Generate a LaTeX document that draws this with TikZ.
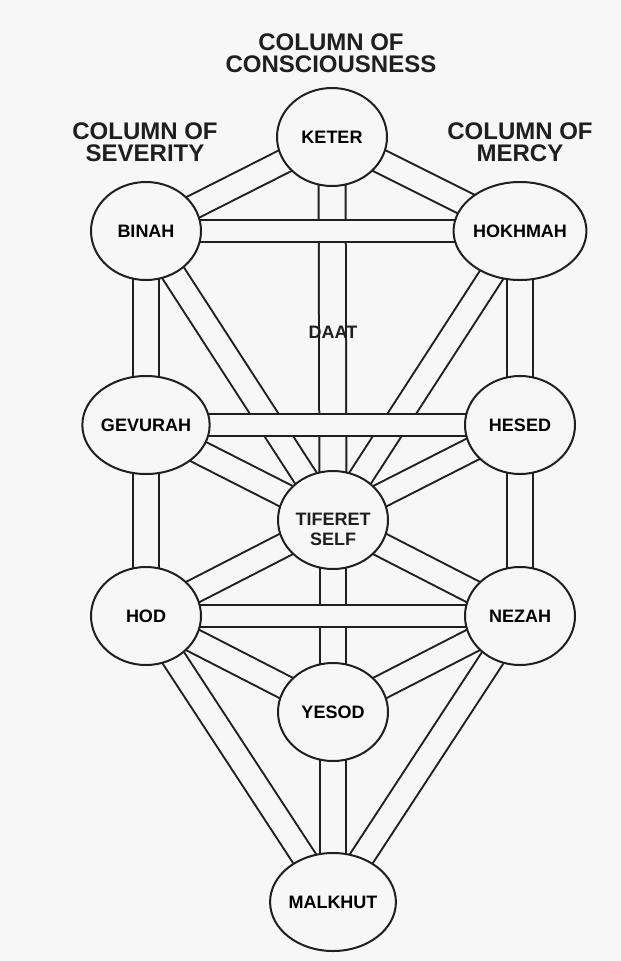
\documentclass[tikz,border=0pt]{standalone}
\usepackage{fontspec}
\setmainfont{Liberation Sans}
\usetikzlibrary{shapes.geometric}
\definecolor{paper}{rgb}{0.97,0.97,0.97}
\definecolor{ink}{rgb}{0.12,0.12,0.12}
\pgfdeclarelayer{bg}
\pgfdeclarelayer{chan}
\pgfdeclarelayer{hchan}
\pgfsetlayers{bg,chan,hchan,main}
\begin{document}
\begin{tikzpicture}[x=0.75pt,y=-0.75pt,
  sephira/.style={ellipse, draw=ink, line width=1.5pt, fill=paper,
    minimum width=82.5pt, minimum height=73.5pt, inner sep=0pt,
    font=\bfseries\fontsize{13.5}{15}\selectfont, align=center},
  chan/.style={draw=ink, line width=1.5pt, double=paper, double distance=16.5pt},
  vchan/.style={chan, double distance=18.7pt},
  hchan/.style={chan, double distance=15.7pt},
  head/.style={font=\bfseries\fontsize{18}{16.5}\selectfont, align=center, text=ink},
  lbl/.style={font=\bfseries\fontsize{13.5}{15}\selectfont, text=ink}]
\begin{pgfonlayer}{bg}
\fill[paper] (0,0) rectangle (621,961);
\end{pgfonlayer}
\useasboundingbox (0,0) rectangle (621,961);

\node[head] (hcons) at (331,53) {COLUMN OF\\CONSCIOUSNESS};
\node[head] (hsev) at (145,142) {COLUMN OF\\SEVERITY};
\node[head] (hmer) at (520,142) {COLUMN OF\\MERCY};

\node[sephira] (keter) at (332,137) {KETER};
\node[sephira] (binah) at (146,231) {BINAH};
\node[sephira] (hokhmah) at (520,231) {HOKHMAH};
\node[sephira] (gevurah) at (146,425) {GEVURAH};
\node[sephira] (hesed) at (520,425) {HESED};
\node[sephira, label={[lbl, yshift=-7pt, align=center]center:TIFERET\\SELF}] (tiferet) at (333,520) {};
\node[sephira] (hod) at (146,616) {HOD};
\node[sephira] (nezah) at (520,616) {NEZAH};
\node[sephira] (yesod) at (333,712) {YESOD};
\node[sephira] (malkhut) at (333,902) {MALKHUT};
\node[lbl] (daat) at (333,332) {DAAT};

\begin{pgfonlayer}{chan}
\draw[chan] (keter.center) -- (binah.center);
\draw[chan] (keter.center) -- (hokhmah.center);
\draw[vchan] (keter.center) -- (tiferet.center);
\draw[vchan] (binah.center) -- (gevurah.center);
\draw[vchan] (hokhmah.center) -- (hesed.center);
\draw[chan] (binah.center) -- (tiferet.center);
\draw[chan] (hokhmah.center) -- (tiferet.center);
\draw[chan] (gevurah.center) -- (tiferet.center);
\draw[chan] (hesed.center) -- (tiferet.center);
\draw[vchan] (gevurah.center) -- (hod.center);
\draw[vchan] (hesed.center) -- (nezah.center);
\draw[chan] (tiferet.center) -- (hod.center);
\draw[chan] (tiferet.center) -- (nezah.center);
\draw[vchan] (tiferet.center) -- (yesod.center);
\draw[chan] (hod.center) -- (yesod.center);
\draw[chan] (nezah.center) -- (yesod.center);
\draw[chan] (hod.center) -- (malkhut.center);
\draw[chan] (nezah.center) -- (malkhut.center);
\draw[vchan] (yesod.center) -- (malkhut.center);
\end{pgfonlayer}
\begin{pgfonlayer}{hchan}
\draw[hchan] (binah.center) -- (hokhmah.center);
\draw[hchan] (gevurah.center) -- (hesed.center);
\draw[hchan] (hod.center) -- (nezah.center);
\end{pgfonlayer}
\end{tikzpicture}
\end{document}
